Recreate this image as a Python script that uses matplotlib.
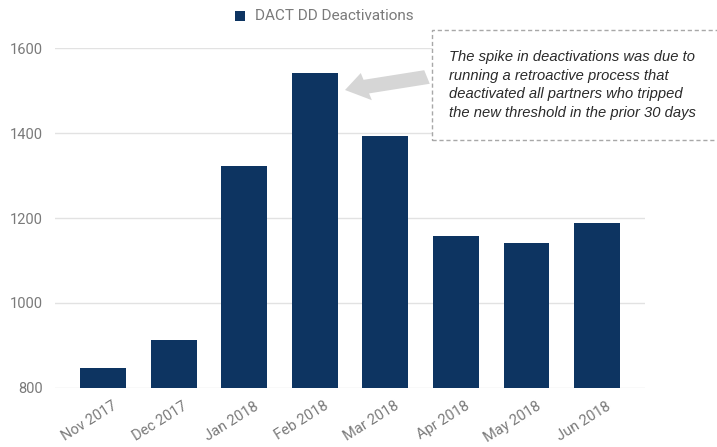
import matplotlib
matplotlib.use("Agg")
import matplotlib.pyplot as plt
import matplotlib.transforms as mtransforms
from matplotlib.patches import Rectangle, FancyArrow

# data
months = ["Nov 2017", "Dec 2017", "Jan 2018", "Feb 2018",
          "Mar 2018", "Apr 2018", "May 2018", "Jun 2018"]
deactivations = [847, 913, 1322, 1541, 1393, 1158, 1141, 1188]
y_ticks = [800, 1000, 1200, 1400, 1600]

series_name = "DACT DD Deactivations"
note = ("The spike in deactivations was due to\n"
        "running a retroactive process that\n"
        "deactivated all partners who tripped\n"
        "the new threshold in the prior 30 days")

bar_color = "#0d3461"
grid_color = "#e2e2e2"
label_color = "#7a7a7a"

plt.rcParams["font.family"] = ["Roboto", "DejaVu Sans"]

fig = plt.figure(figsize=(7.17, 4.47), dpi=100)
fig.patch.set_facecolor("white")
ax = fig.add_axes([0.0767, 0.132, 0.823, 0.7606])

x = list(range(len(months)))
ax.bar(x, deactivations, width=0.65, color=bar_color, zorder=3)

ax.set_xlim(-0.68, len(months) - 1 + 0.68)
ax.set_ylim(800, 1600)
ax.set_yticks(y_ticks)
ax.set_yticklabels([str(v) for v in y_ticks])
ax.set_xticks(x)
ax.set_xticklabels(months, rotation=32, ha="right", rotation_mode="anchor")
ax.yaxis.grid(True, color=grid_color, linewidth=1.0, zorder=0)
ax.tick_params(axis="both", length=0, colors=label_color, labelsize=10.5)
ax.tick_params(axis="y", pad=9)
ax.tick_params(axis="x", pad=8)
shift = mtransforms.ScaledTranslation(9 / 100, 0, fig.dpi_scale_trans)
for lbl in ax.get_xticklabels():
    lbl.set_transform(lbl.get_transform() + shift)
for s in ax.spines.values():
    s.set_visible(False)

# legend at top
fig.patches.append(Rectangle((235 / 717, 1 - 21 / 447), 10 / 717, 10 / 447,
                             transform=fig.transFigure, facecolor=bar_color,
                             edgecolor="none"))
fig.text(255 / 717, 1 - 16 / 447, series_name, fontsize=11,
         color=label_color, va="center", ha="left")

# annotation box
fig.patches.append(Rectangle((432 / 717, 1 - 140 / 447), 290 / 717, 110 / 447,
                             transform=fig.transFigure, facecolor="white",
                             edgecolor="#a8a8a8", linestyle=(0, (3, 2)),
                             linewidth=1.0, zorder=5))
fig.text(449 / 717, 1 - 85 / 447, note, fontsize=10.6, style="italic",
         family=["Liberation Sans", "DejaVu Sans"],
         color="#2a2a2a", va="center", ha="left", linespacing=1.45, zorder=6)

# grey arrow pointing at the Feb bar
fig.patches.append(FancyArrow(427 / 717, 1 - 77 / 447, -82 / 717, -13 / 447,
                              width=14 / 447, head_width=28 / 447,
                              head_length=22 / 717, length_includes_head=True,
                              transform=fig.transFigure, facecolor="#d6d6d6",
                              edgecolor="none", zorder=4))

plt.savefig("out.png", dpi=100, facecolor="white")
